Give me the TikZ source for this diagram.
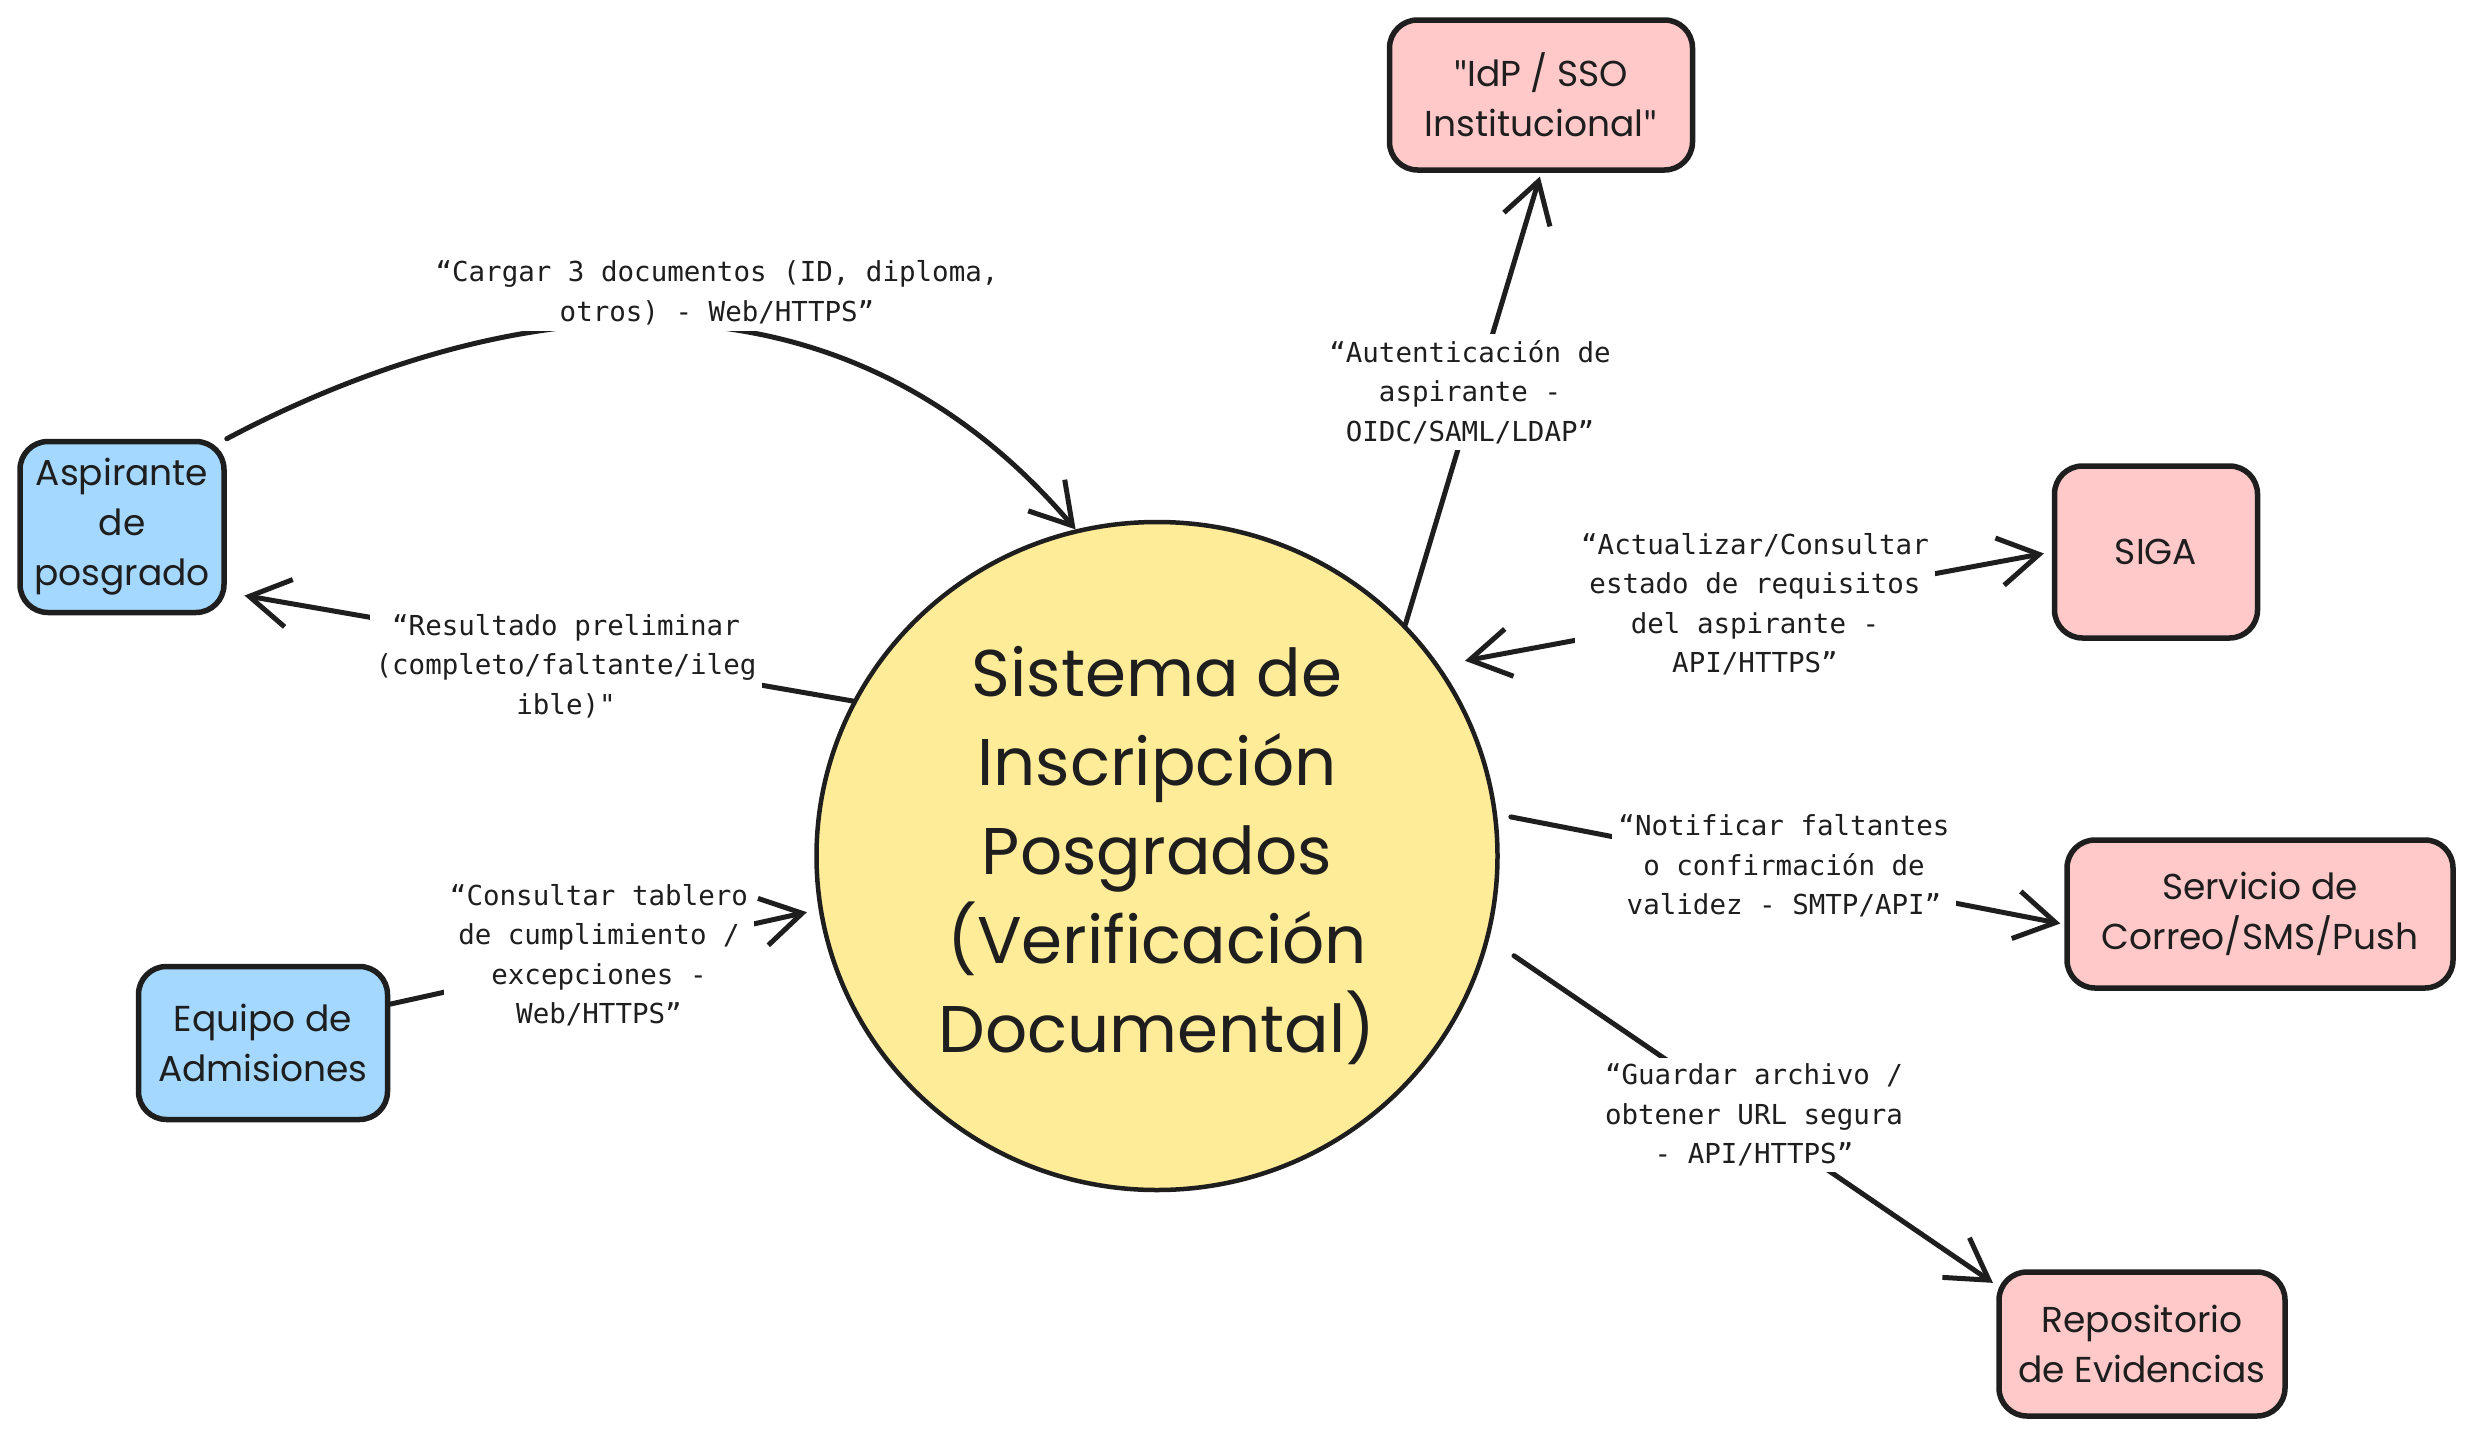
\documentclass[tikz,border=0pt]{standalone}
\usepackage{fontspec}
\setmainfont{Poppins}
\newfontfamily\monofnt{DejaVu Sans Mono}
\newfontfamily\quotefnt{Lato}
\usetikzlibrary{arrows.meta,shapes.geometric}
\definecolor{ink}{HTML}{1E1E1E}
\definecolor{actorblue}{HTML}{A5D8FF}
\definecolor{extpink}{HTML}{FFC9C9}
\definecolor{sysyellow}{HTML}{FFEC99}
\newcommand{\sq}{{\quotefnt\symbol{34}}}
\begin{document}
\begin{tikzpicture}[x=1pt,y=-1pt,
  box/.style={draw=ink, line width=5.5pt, rounded corners=28pt, align=center,
    font=\fontsize{36}{50}\selectfont, text=ink, inner sep=0pt},
  actor/.style={box, fill=actorblue},
  ext/.style={box, fill=extpink},
  conn/.style={draw=ink, line width=5pt, line cap=round, line join=round},
  barb/.tip={Straight Barb[length=40pt,width=48pt]},
  tip/.style={-barb},
  lbl/.style={fill=white, align=center, font=\monofnt\fontsize{27.5}{39.5}\selectfont,
    text=ink, inner sep=6pt}
]
\useasboundingbox (0,0) rectangle (2474,1435);

% nodes
\node[actor, minimum width=204pt, minimum height=171pt] (asp) at (122,527) {Aspirante\\de\\posgrado};
\node[actor, minimum width=249pt, minimum height=153pt] (eq) at (263,1043) {Equipo de\\Admisiones};
\node[ext, minimum width=303pt, minimum height=150pt] (idp) at (1541,95) {\sq IdP / SSO\\Institucional\sq};
\node[ext, minimum width=203pt, minimum height=172pt] (siga) at (2156,552) {SIGA};
\node[ext, minimum width=386pt, minimum height=148pt] (srv) at (2260,914) {Servicio de\\Correo/SMS/Push};
\node[ext, minimum width=286pt, minimum height=144pt] (rep) at (2142,1344) {Repositorio\\de Evidencias};
\node[ellipse, draw=ink, fill=sysyellow, line width=4.5pt, minimum width=681pt, minimum height=668pt,
  inner sep=0pt, align=center, font=\fontsize{66}{89}\selectfont, text=ink] (sys) at (1157,856)
  {Sistema de\\Inscripción\\Posgrados\\(Verificación\\Documental)};

% connectors
\draw[conn, tip] (asp.north east) .. controls (470,310) and (820,230) .. (sys.104);
\draw[conn, tip, shorten >=18pt] (sys.153) -- (asp.-32);
\draw[conn, tip, shorten >=12pt] (eq.17) -- (sys.189);
\draw[conn, tip, shorten >=4pt] (sys.43) -- (idp.south);
\draw[conn, barb-barb, shorten <=26pt, shorten >=8pt] (sys.34) -- (siga.west);
\draw[conn, tip, shorten <=14pt, shorten >=4pt] (sys.7) -- (srv.183);
\draw[conn, tip, shorten <=30pt, shorten >=4pt] (sys.-14) -- (rep.158);

% labels
\node[lbl] (l1) at (717,293) {“Cargar 3 documentos (ID, diploma,\\otros) - Web/HTTPS”};
\node[lbl] (l2) at (566,666) {“Resultado preliminar\\(completo/faltante/ileg\\ible)"};
\node[lbl] (l3) at (599,955) {“Consultar tablero\\de cumplimiento /\\excepciones -\\Web/HTTPS”};
\node[lbl] (l4) at (1470,392) {“Autenticación de\\aspirante -\\OIDC/SAML/LDAP”};
\node[lbl] (l5) at (1755,604) {“Actualizar/Consultar\\estado de requisitos\\del aspirante -\\API/HTTPS”};
\node[lbl] (l6) at (1784,866) {“Notificar faltantes\\o confirmación de\\validez - SMTP/API”};
\node[lbl] (l7) at (1754,1115) {“Guardar archivo /\\obtener URL segura\\- API/HTTPS”};
\end{tikzpicture}
\end{document}
